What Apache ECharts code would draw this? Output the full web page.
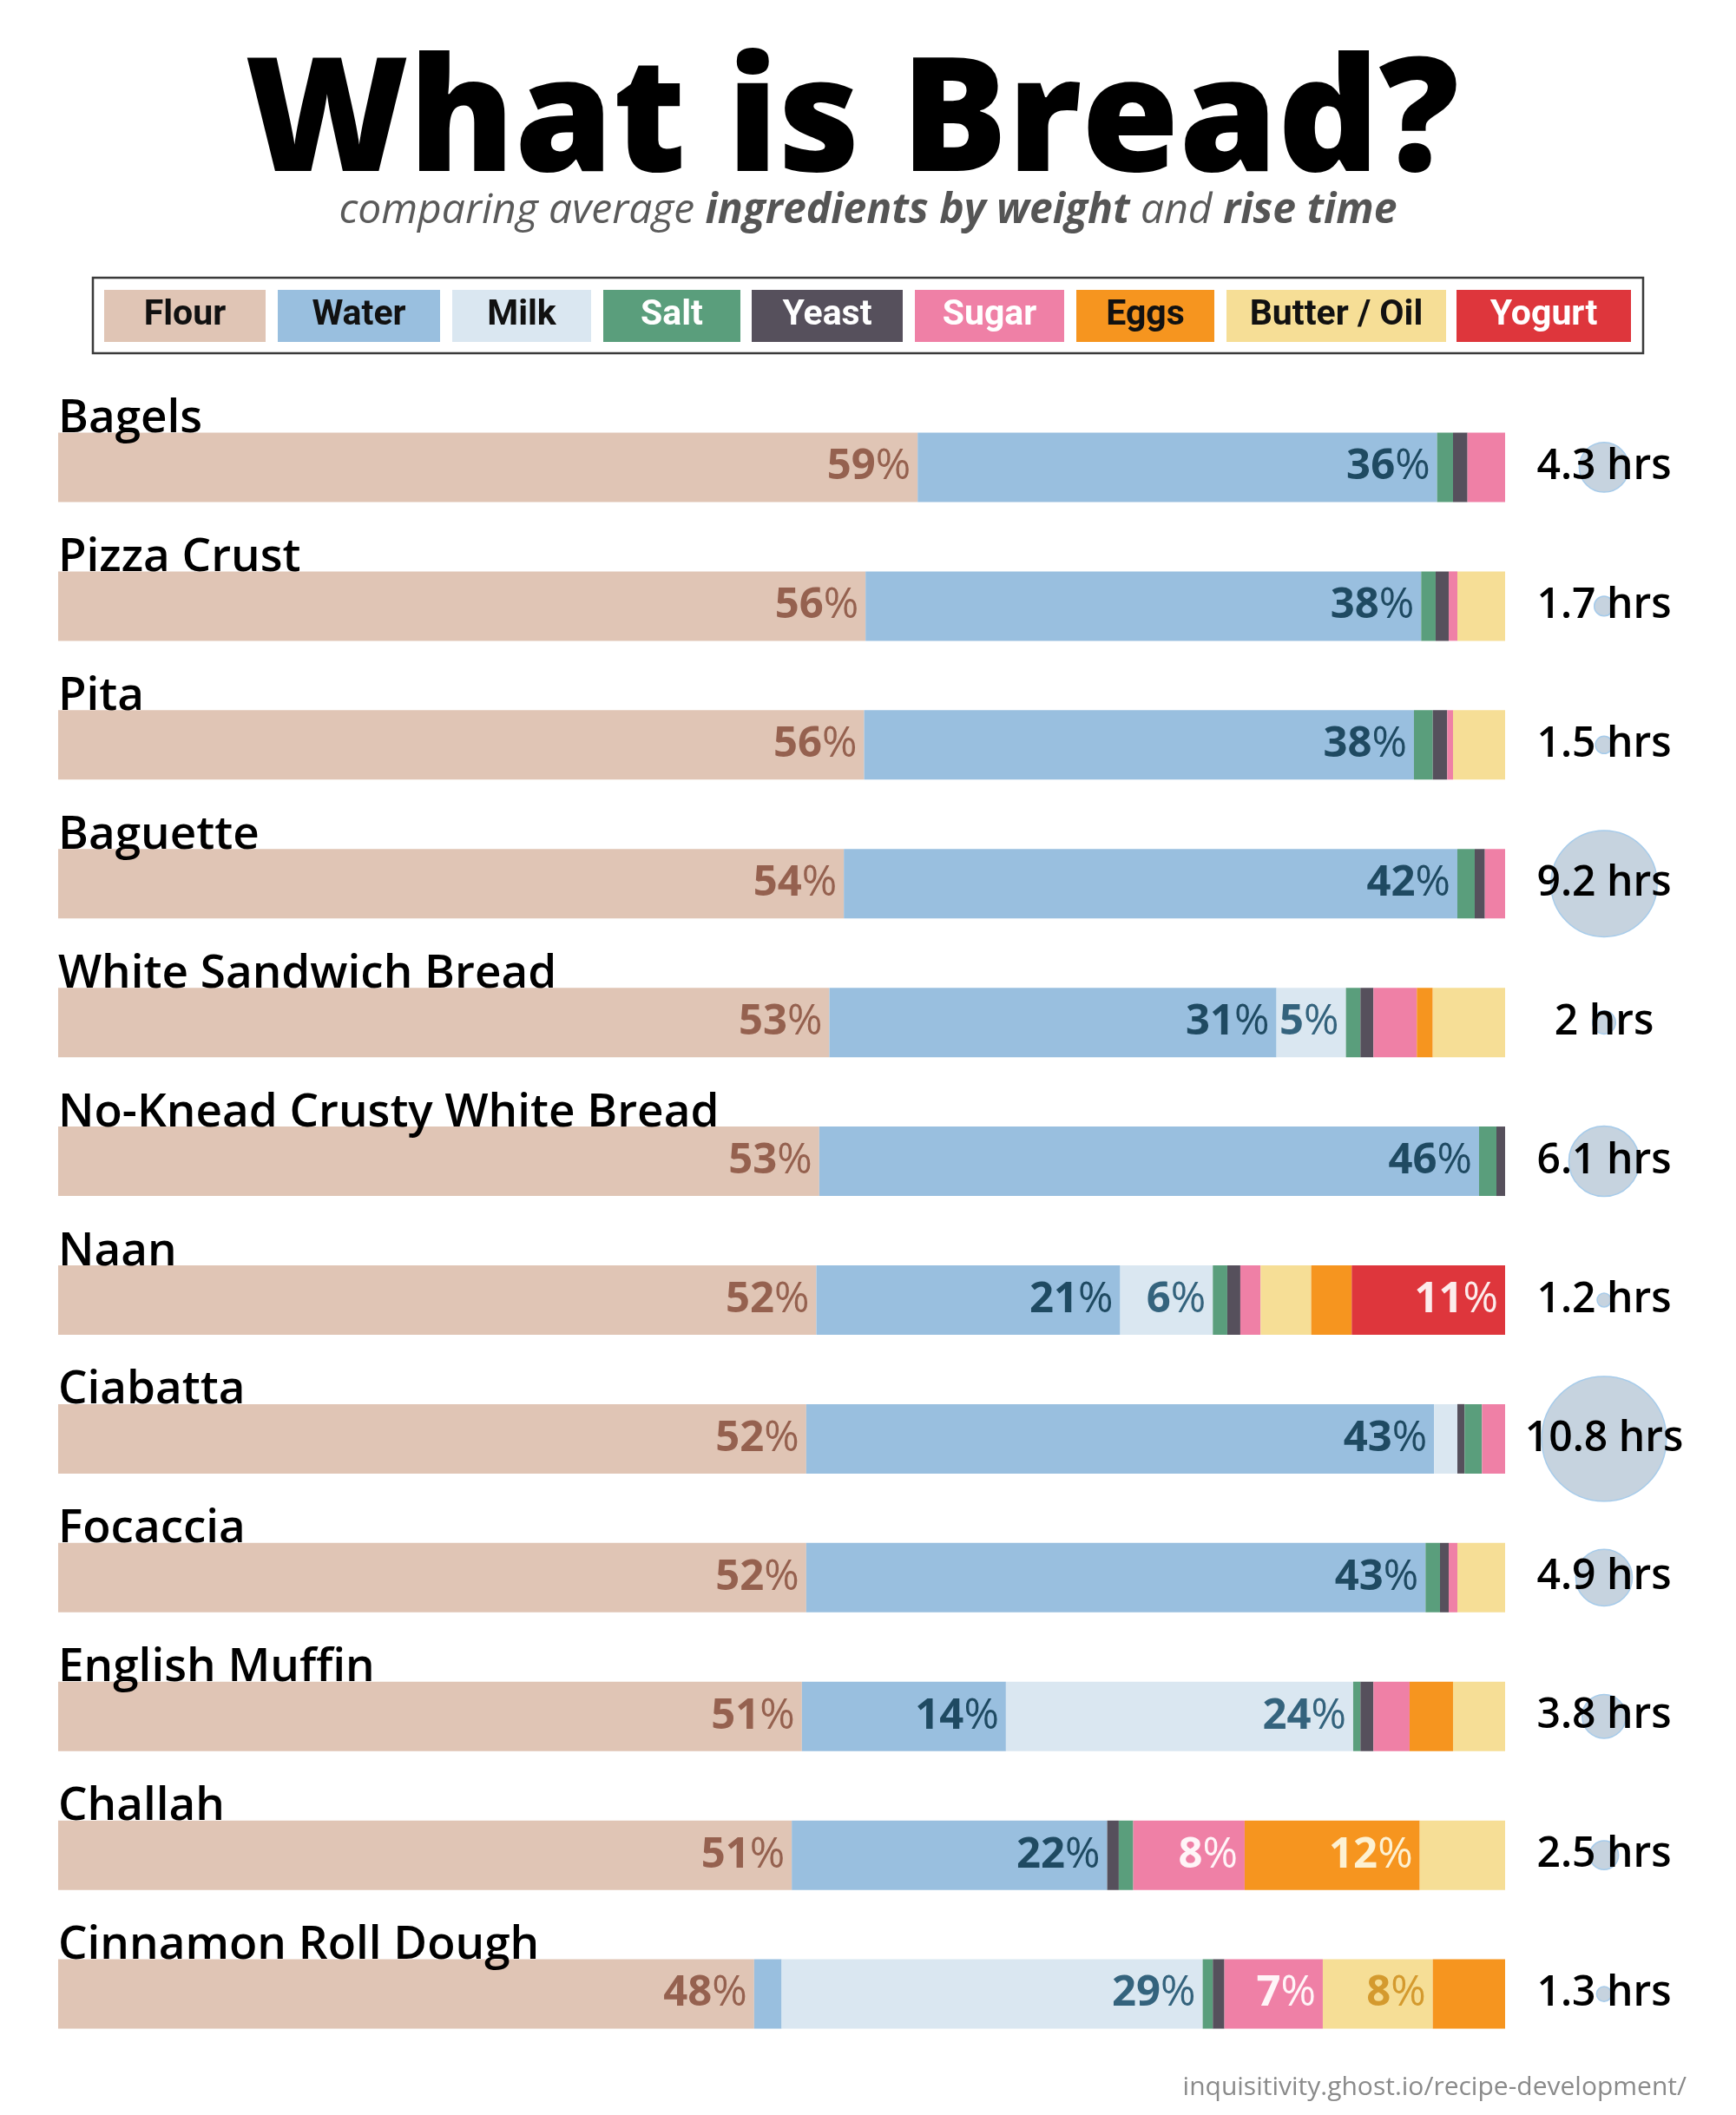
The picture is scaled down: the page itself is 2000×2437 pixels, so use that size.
<!DOCTYPE html>
<html>
<head>
<meta charset="utf-8">
<script src="https://cdn.jsdelivr.net/npm/echarts@6/dist/echarts.min.js"></script>
<style>
html,body{margin:0;padding:0;background:#fff}
#chart{width:2000px;height:2437px}
</style>
</head>
<body>
<div id="chart"></div>
<script>
// ---------- DATA (percent of dough weight, rise time in hours) ----------
const breads = ['Bagels', 'Pizza Crust', 'Pita', 'Baguette', 'White Sandwich Bread',
  'No-Knead Crusty White Bread', 'Naan', 'Ciabatta', 'Focaccia', 'English Muffin',
  'Challah', 'Cinnamon Roll Dough'];
const flour  = [59.4, 55.8, 55.7, 54.3, 53.3, 52.6, 52.4, 51.7, 51.7, 51.4, 50.7, 48.1];
const water  = [35.9, 38.4, 38.0, 42.4, 30.9, 45.6, 21.0, 43.4, 42.8, 14.1, 21.8, 1.9];
const milk   = [0, 0, 0, 0, 4.8, 0, 6.4, 1.6, 0, 24.0, 0, 29.1];
const salt   = [1.1, 1.0, 1.3, 1.2, 1.0, 1.2, 1.0, 1.2, 1.0, 0.5, 1.0, 0.7];
const yeast  = [1.0, 0.9, 1.0, 0.7, 0.9, 0.6, 0.9, 0.5, 0.6, 0.9, 0.8, 0.8];
const sugar  = [2.6, 0.6, 0.4, 1.4, 3.0, 0, 1.4, 1.6, 0.6, 2.5, 7.7, 6.8];
const eggs   = [0, 0, 0, 0, 1.1, 0, 2.8, 0, 0, 3.0, 12.1, 5.0];
const butter = [0, 3.3, 3.6, 0, 5.0, 0, 3.5, 0, 3.3, 3.6, 5.9, 7.6];
const yogurt = [0, 0, 0, 0, 0, 0, 10.6, 0, 0, 0, 0, 0];
const riseHours = [4.3, 1.7, 1.5, 9.2, 2, 6.1, 1.2, 10.8, 4.9, 3.8, 2.5, 1.3];
// segment order exceptions seen in the picture
const yeastBeforeSalt = ['Ciabatta', 'Challah'];
const butterBeforeEggs = ['Naan', 'Cinnamon Roll Dough'];
const legendNames = ['Flour', 'Water', 'Milk', 'Salt', 'Yeast', 'Sugar', 'Eggs', 'Butter / Oil', 'Yogurt'];

// ---------- STYLE ----------
const FONT = '"Open Sans", "Noto Sans", sans-serif';
const LFONT = 'Roboto, "Open Sans", sans-serif';
const COLORS = {
  'Flour': '#e0c5b5', 'Water': '#99bfdf', 'Milk': '#dae7f1', 'Salt': '#5a9e7c',
  'Yeast': '#56505c', 'Sugar': '#ef80a6', 'Eggs': '#f6951f', 'Butter / Oil': '#f6de96',
  'Yogurt': '#de363c'
};
const LEGEND_TEXT = {
  'Flour': '#111', 'Water': '#111', 'Milk': '#111', 'Salt': '#fff', 'Yeast': '#fff',
  'Sugar': '#fff', 'Eggs': '#111', 'Butter / Oil': '#111', 'Yogurt': '#fff'
};
const LEGEND_BOXES = [[120, 186], [320, 187], [521, 160], [695, 158], [866, 174],
  [1054, 172], [1240, 159], [1413, 253], [1678, 201]];

const clean = (arr, keep) => arr.map((v, i) => (v > 0 && (!keep || keep(i))) ? v : '-');

function pctLabel(color, min) {
  return {
    show: true, position: 'insideRight', distance: 8,
    formatter: p => (typeof p.value === 'number' && p.value >= min) ? `{n|${Math.round(p.value)}}{p|%}` : '',
    rich: {
      n: { fontFamily: FONT, fontWeight: 700, fontSize: 49, color: color },
      p: { fontFamily: FONT, fontWeight: 400, fontSize: 49, color: color }
    }
  };
}
function bar(name, data, color, label) {
  return {
    name: name, type: 'bar', stack: 'dough', barWidth: 80, data: data,
    xAxisIndex: 0, yAxisIndex: 0, silent: true,
    itemStyle: { color: color }, label: label || { show: false },
    emphasis: { disabled: true }
  };
}

const series = [
  bar('Flour', clean(flour), COLORS['Flour'], pctLabel('#95614f', 4)),
  bar('Water', clean(water), COLORS['Water'], pctLabel('#1f4a62', 4)),
  bar('Milk', clean(milk), COLORS['Milk'], pctLabel('#34637d', 4)),
  bar('Salt', clean(salt, i => !yeastBeforeSalt.includes(breads[i])), COLORS['Salt']),
  bar('Yeast', clean(yeast), COLORS['Yeast']),
  bar('Salt (after yeast)', clean(salt, i => yeastBeforeSalt.includes(breads[i])), COLORS['Salt']),
  bar('Sugar', clean(sugar), COLORS['Sugar'], pctLabel('#fff5f8', 6)),
  bar('Eggs', clean(eggs, i => !butterBeforeEggs.includes(breads[i])), COLORS['Eggs'], pctLabel('#fdf1d2', 6)),
  bar('Butter / Oil', clean(butter), COLORS['Butter / Oil'], pctLabel('#d49a2e', 6)),
  bar('Eggs (after butter)', clean(eggs, i => butterBeforeEggs.includes(breads[i])), COLORS['Eggs'], pctLabel('#fdf1d2', 6)),
  bar('Yogurt', clean(yogurt), COLORS['Yogurt'], pctLabel('#fcecec', 6)),
  {
    name: 'Rise time', type: 'scatter', xAxisIndex: 1, yAxisIndex: 1, silent: true,
    data: riseHours.map((h, i) => [0.5, breads[i], h]),
    symbolSize: d => d[2] * 13.3,
    itemStyle: { color: '#c6d3df', borderColor: '#a6cbea', borderWidth: 1.5, opacity: 1 },
    label: {
      show: true, position: 'inside', formatter: p => p.data[2] + ' hrs',
      fontFamily: FONT, fontWeight: 600, fontSize: 48, color: '#000'
    },
    emphasis: { disabled: true }
  }
];

// legend drawn as boxed swatches with the name inside
const graphic = [{
  type: 'rect', shape: { x: 107, y: 320, width: 1786, height: 87 },
  style: { fill: '#fff', stroke: '#3a3a3a', lineWidth: 2.5 }, silent: true
}];
legendNames.forEach((n, k) => {
  const [x, w] = LEGEND_BOXES[k];
  graphic.push({ type: 'rect', shape: { x: x, y: 334, width: w, height: 60 },
    style: { fill: COLORS[n] }, silent: true });
  graphic.push({ type: 'text', x: x + w / 2, y: 364, silent: true,
    style: { text: n, align: 'center', verticalAlign: 'middle', fill: LEGEND_TEXT[n],
      fontFamily: LFONT, fontWeight: 700, fontSize: 41 } });
});

const option = {
  backgroundColor: '#fff',
  animation: false,
  title: [
    { text: 'What is Bread?', left: 282, top: 54, padding: 0,
      textStyle: { fontFamily: FONT, fontWeight: 800, fontSize: 182, lineHeight: 182, color: '#000' } },
    { text: '{n|comparing average }{b|ingredients by weight}{n| and }{b|rise time}',
      left: 'center', top: 219, padding: 0,
      textStyle: { rich: {
        n: { fontFamily: FONT, fontStyle: 'italic', fontWeight: 400, fontSize: 48, lineHeight: 48, color: '#5a5a5a' },
        b: { fontFamily: FONT, fontStyle: 'italic', fontWeight: 700, fontSize: 48, lineHeight: 48, color: '#555' }
      } } },
    { text: 'inquisitivity.ghost.io/recipe-development/', right: 57, top: 2390, padding: 0,
      textStyle: { fontFamily: FONT, fontWeight: 400, fontSize: 30, lineHeight: 30, color: '#8a8a8a' } }
  ],
  grid: [
    { left: 67, right: 266, top: 458.5, bottom: 59.5, outerBoundsMode: 'none', containLabel: false },
    { left: 1760, width: 176, top: 458.5, bottom: 59.5, outerBoundsMode: 'none', containLabel: false }
  ],
  xAxis: [
    { type: 'value', gridIndex: 0, min: 0, max: 100, show: false },
    { type: 'value', gridIndex: 1, min: 0, max: 1, show: false }
  ],
  yAxis: [
    { type: 'category', gridIndex: 0, data: breads, inverse: true, z: 10,
      axisLine: { show: false }, axisTick: { show: false }, splitLine: { show: false },
      axisLabel: { inside: true, margin: 0, interval: 0, align: 'left', verticalAlign: 'bottom',
        padding: [0, 0, 29, 0], lineHeight: 53,
        fontFamily: FONT, fontWeight: 600, fontSize: 53, color: '#000' } },
    { type: 'category', gridIndex: 1, data: breads, inverse: true, show: false }
  ],
  graphic: graphic,
  series: series
};

const chart = echarts.init(document.getElementById('chart'), null, { renderer: 'canvas' });
chart.setOption(option);
</script>
</body>
</html>
